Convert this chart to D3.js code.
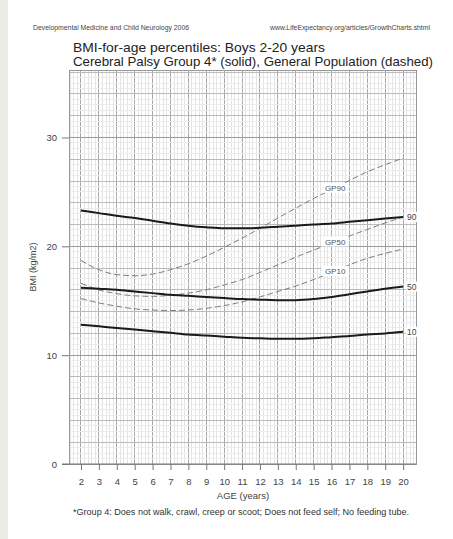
<!DOCTYPE html>
<html>
<head>
<meta charset="utf-8">
<script src="https://cdn.jsdelivr.net/npm/d3@7"></script>
<style>
  body { margin: 0; background: #fff; }
  svg { display: block; font-family: "Liberation Sans", Arial, sans-serif; }
</style>
</head>
<body>
<div id="chart"></div>
<script>
// ages in years
var ages = [2, 3, 4, 5, 6, 7, 8, 9, 10, 11, 12, 13, 14, 15, 16, 17, 18, 19, 20];
// Cerebral palsy group 4 percentiles (solid)
var cp90 = [23.3, 23.05, 22.8, 22.6, 22.35, 22.1, 21.9, 21.75, 21.65, 21.65, 21.7, 21.8, 21.9, 22.0, 22.1, 22.25, 22.4, 22.55, 22.7];
var cp50 = [16.2, 16.1, 16.0, 15.85, 15.7, 15.55, 15.45, 15.35, 15.25, 15.15, 15.1, 15.05, 15.05, 15.15, 15.35, 15.6, 15.85, 16.1, 16.3];
var cp10 = [12.8, 12.65, 12.5, 12.35, 12.2, 12.05, 11.9, 11.8, 11.7, 11.6, 11.55, 11.5, 11.5, 11.55, 11.65, 11.75, 11.9, 12.0, 12.15];
// general population percentiles (dashed)
var gp90 = [18.7, 17.85, 17.4, 17.3, 17.45, 17.85, 18.4, 19.1, 19.9, 20.75, 21.65, 22.6, 23.5, 24.4, 25.2, 26.05, 26.85, 27.5, 28.1];
var gp50 = [16.6, 16.0, 15.65, 15.45, 15.4, 15.5, 15.7, 16.0, 16.45, 16.95, 17.6, 18.3, 19.0, 19.65, 20.3, 20.95, 21.55, 22.15, 22.7];
var gp10 = [15.2, 14.8, 14.5, 14.25, 14.15, 14.1, 14.15, 14.3, 14.55, 14.9, 15.35, 15.85, 16.35, 16.95, 17.6, 18.3, 18.9, 19.35, 19.75];

var yTicks = [0, 10, 20, 30];
var xTicks = ages;

var W = 453, H = 539;
var svg = d3.select("#chart").append("svg")
    .attr("width", W)
    .attr("height", H);

// scanned page edge on the left
svg.append("rect").attr("x", 0).attr("y", 0).attr("width", 8).attr("height", H).attr("fill", "#ebebe3");

var x = d3.scaleLinear().domain([1.33, 20.72]).range([69, 416]);
var y = d3.scaleLinear().domain([0, 36.2]).range([464, 70]);

var grid = svg.append("g").attr("shape-rendering", "crispEdges");

function isInt(d) { return Math.abs(d - Math.round(d)) < 0.01; }

// vertical lines every fifth of a year, darker on whole years
var minorX = d3.range(1.4, 20.7, 0.2);
grid.selectAll(".vminor").data(minorX).enter().append("line")
    .attr("x1", d => x(d)).attr("x2", d => x(d))
    .attr("y1", y(0)).attr("y2", y(36.2))
    .attr("stroke", d => isInt(d) ? "#a8a8a8" : "#e4e4e4")
    .attr("stroke-width", 1);

// horizontal lines every half unit, darker every 2
var minorY = d3.range(0.5, 36.1, 0.5);
grid.selectAll(".hminor").data(minorY).enter().append("line")
    .attr("x1", x.range()[0]).attr("x2", x.range()[1])
    .attr("y1", d => y(d)).attr("y2", d => y(d))
    .attr("stroke", d => d % 10 === 0 ? "#999" : (d % 2 === 0 ? "#bbb" : "#ebebeb"))
    .attr("stroke-width", 1);

// plot frame
grid.append("rect")
    .attr("x", x.range()[0]).attr("y", y(36.2))
    .attr("width", x.range()[1] - x.range()[0])
    .attr("height", y(0) - y(36.2))
    .attr("fill", "none").attr("stroke", "#999").attr("stroke-width", 1);

// axes
var yAxis = svg.append("g")
    .attr("transform", "translate(" + x.range()[0] + ",0)")
    .call(d3.axisLeft(y).tickValues(yTicks).tickSize(7).tickPadding(5));
yAxis.select(".domain").remove();
yAxis.selectAll("line").attr("stroke", "#777");
yAxis.selectAll("text").attr("font-size", 9.5).attr("fill", "#444").attr("font-family", "Liberation Sans, Arial, sans-serif");

var xAxis = svg.append("g")
    .attr("transform", "translate(0," + y(0) + ")")
    .call(d3.axisBottom(x).tickValues(xTicks).tickSize(6).tickPadding(8));
xAxis.select(".domain").remove();
xAxis.selectAll("line").attr("stroke", "#777");
xAxis.selectAll("text").attr("font-size", 9.5).attr("fill", "#444").attr("font-family", "Liberation Sans, Arial, sans-serif");

// axis baseline extends left of the frame
svg.append("line")
    .attr("x1", 62).attr("x2", x.range()[1])
    .attr("y1", y(0)).attr("y2", y(0))
    .attr("stroke", "#777").attr("stroke-width", 1);

var line = d3.line()
    .x((d, i) => x(ages[i]))
    .y(d => y(d))
    .curve(d3.curveMonotoneX);

var dashed = [gp90, gp50, gp10];
var solid = [cp90, cp50, cp10];

svg.selectAll(".gp").data(dashed).enter().append("path")
    .attr("d", line)
    .attr("fill", "none")
    .attr("stroke", "#707070")
    .attr("stroke-width", 0.9)
    .attr("stroke-dasharray", "6,3");

svg.selectAll(".cp").data(solid).enter().append("path")
    .attr("d", line)
    .attr("fill", "none")
    .attr("stroke", "#1a1a1a")
    .attr("stroke-width", 2);

// labels on the dashed curves
var gpNames = ["GP90", "GP50", "GP10"];
var labelAge = 16.2;
function valAt(series, a) {
    var i = Math.floor(a) - ages[0];
    var t = a - Math.floor(a);
    return series[i] + (series[i + 1] - series[i]) * t;
}
dashed.forEach(function (s, k) {
    var cx = x(labelAge), cy = y(valAt(s, labelAge));
    svg.append("rect")
        .attr("x", cx - 14).attr("y", cy - 5)
        .attr("width", 28).attr("height", 10)
        .attr("fill", "#fff");
    svg.append("text")
        .attr("x", cx).attr("y", cy + 3)
        .attr("text-anchor", "middle")
        .attr("font-size", 8).attr("fill", "#555")
        .text(gpNames[k]);
});

// labels at the end of the solid curves
var cpNames = ["90", "50", "10"];
solid.forEach(function (s, k) {
    var ex = x(ages[ages.length - 1]) + 3, ey = y(s[s.length - 1]);
    svg.append("rect")
        .attr("x", ex).attr("y", ey - 5)
        .attr("width", 11).attr("height", 10)
        .attr("fill", "#fff");
    svg.append("text")
        .attr("x", ex + 1).attr("y", ey + 3)
        .attr("font-size", 8.5).attr("fill", "#444")
        .text(cpNames[k]);
});

// header, titles and axis labels
svg.append("text").attr("x", 33).attr("y", 30).attr("font-size", 7.6).attr("fill", "#444")
    .attr("textLength", 156).attr("lengthAdjust", "spacingAndGlyphs")
    .text("Developmental Medicine and Child Neurology 2006");
svg.append("text").attr("x", 270).attr("y", 30).attr("font-size", 7.3).attr("fill", "#444")
    .attr("textLength", 160).attr("lengthAdjust", "spacingAndGlyphs")
    .text("www.LifeExpectancy.org/articles/GrowthCharts.shtml");
svg.append("text").attr("x", 73).attr("y", 52).attr("font-size", 13.5).attr("fill", "#222")
    .attr("textLength", 252).attr("lengthAdjust", "spacingAndGlyphs")
    .text("BMI-for-age percentiles: Boys 2-20 years");
svg.append("text").attr("x", 73).attr("y", 65.5).attr("font-size", 13.5).attr("fill", "#222")
    .attr("textLength", 360).attr("lengthAdjust", "spacingAndGlyphs")
    .text("Cerebral Palsy Group 4* (solid), General Population (dashed)");
svg.append("text")
    .attr("transform", "translate(36," + ((y(0) + y(36.2)) / 2) + ") rotate(-90)")
    .attr("text-anchor", "middle").attr("font-size", 9).attr("fill", "#444")
    .text("BMI (kg/m2)");
svg.append("text").attr("x", 243).attr("y", 499).attr("text-anchor", "middle")
    .attr("font-size", 9.5).attr("fill", "#444")
    .text("AGE (years)");
svg.append("text").attr("x", 241).attr("y", 515).attr("text-anchor", "middle")
    .attr("font-size", 9).attr("fill", "#333")
    .attr("textLength", 336).attr("lengthAdjust", "spacingAndGlyphs")
    .text("*Group 4: Does not walk, crawl, creep or scoot; Does not feed self; No feeding tube.");
</script>
</body>
</html>
